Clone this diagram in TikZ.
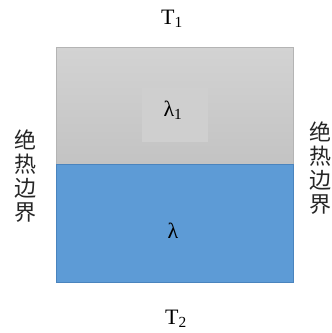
\documentclass[tikz,border=0pt]{standalone}
\usepackage{fontspec}
\setmainfont{Liberation Serif}
\newfontfamily\cjk{Noto Sans CJK SC}
\usetikzlibrary{positioning}
\definecolor{graytop}{HTML}{D3D3D3}
\definecolor{graybot}{HTML}{C3C3C3}
\definecolor{grayedge}{HTML}{B4B4B4}
\definecolor{coregray}{HTML}{CFCFCF}
\definecolor{layerblue}{HTML}{5D9BD6}
\definecolor{blueedge}{HTML}{4A84BE}

\begin{document}
\begin{tikzpicture}[
    x=1pt, y=-1pt,
    graylayer/.style={rectangle, draw=grayedge, top color=graytop, bottom color=graybot,
                      inner sep=0pt, anchor=north west, minimum width=237pt, minimum height=117pt},
    bluelayer/.style={rectangle, draw=blueedge, fill=layerblue,
                      inner sep=0pt, anchor=north west, minimum width=237pt, minimum height=118pt},
    corebox/.style={rectangle, fill=coregray, inner sep=0pt, minimum width=66pt, minimum height=54pt},
    temp/.style={font=\fontsize{22}{24}\selectfont, inner sep=0pt},
    lam/.style={font=\fontsize{22}{24}\selectfont, inner sep=0pt},
    side/.style={font=\cjk\fontsize{22}{24}\selectfont, text=black!85, align=center, inner sep=0pt}
  ]
    \useasboundingbox (0,0) rectangle (332,333);

    %--- layers ---
    \node[graylayer] (upper) at (56,47)  {};
    \node[bluelayer] (lower) at (56,164) {};
    \node[corebox]   (core)  at (175,115) {};

    %--- labels ---
    \node[lam]  (lamone) at (173,110) {λ\textsubscript{1}};
    \node[lam]  (lamtwo) at (173,231) {λ};
    \node[temp] (tone)   at (172,19)  {T\textsubscript{1}};
    \node[temp] (ttwo)   at (176,319) {T\textsubscript{2}};

    %--- adiabatic sides ---
    \node[side] (leftside)  at (25,176)  {绝\\热\\边\\界};
    \node[side] (rightside) at (320,168) {绝\\热\\边\\界};
  \end{tikzpicture}
\end{document}
